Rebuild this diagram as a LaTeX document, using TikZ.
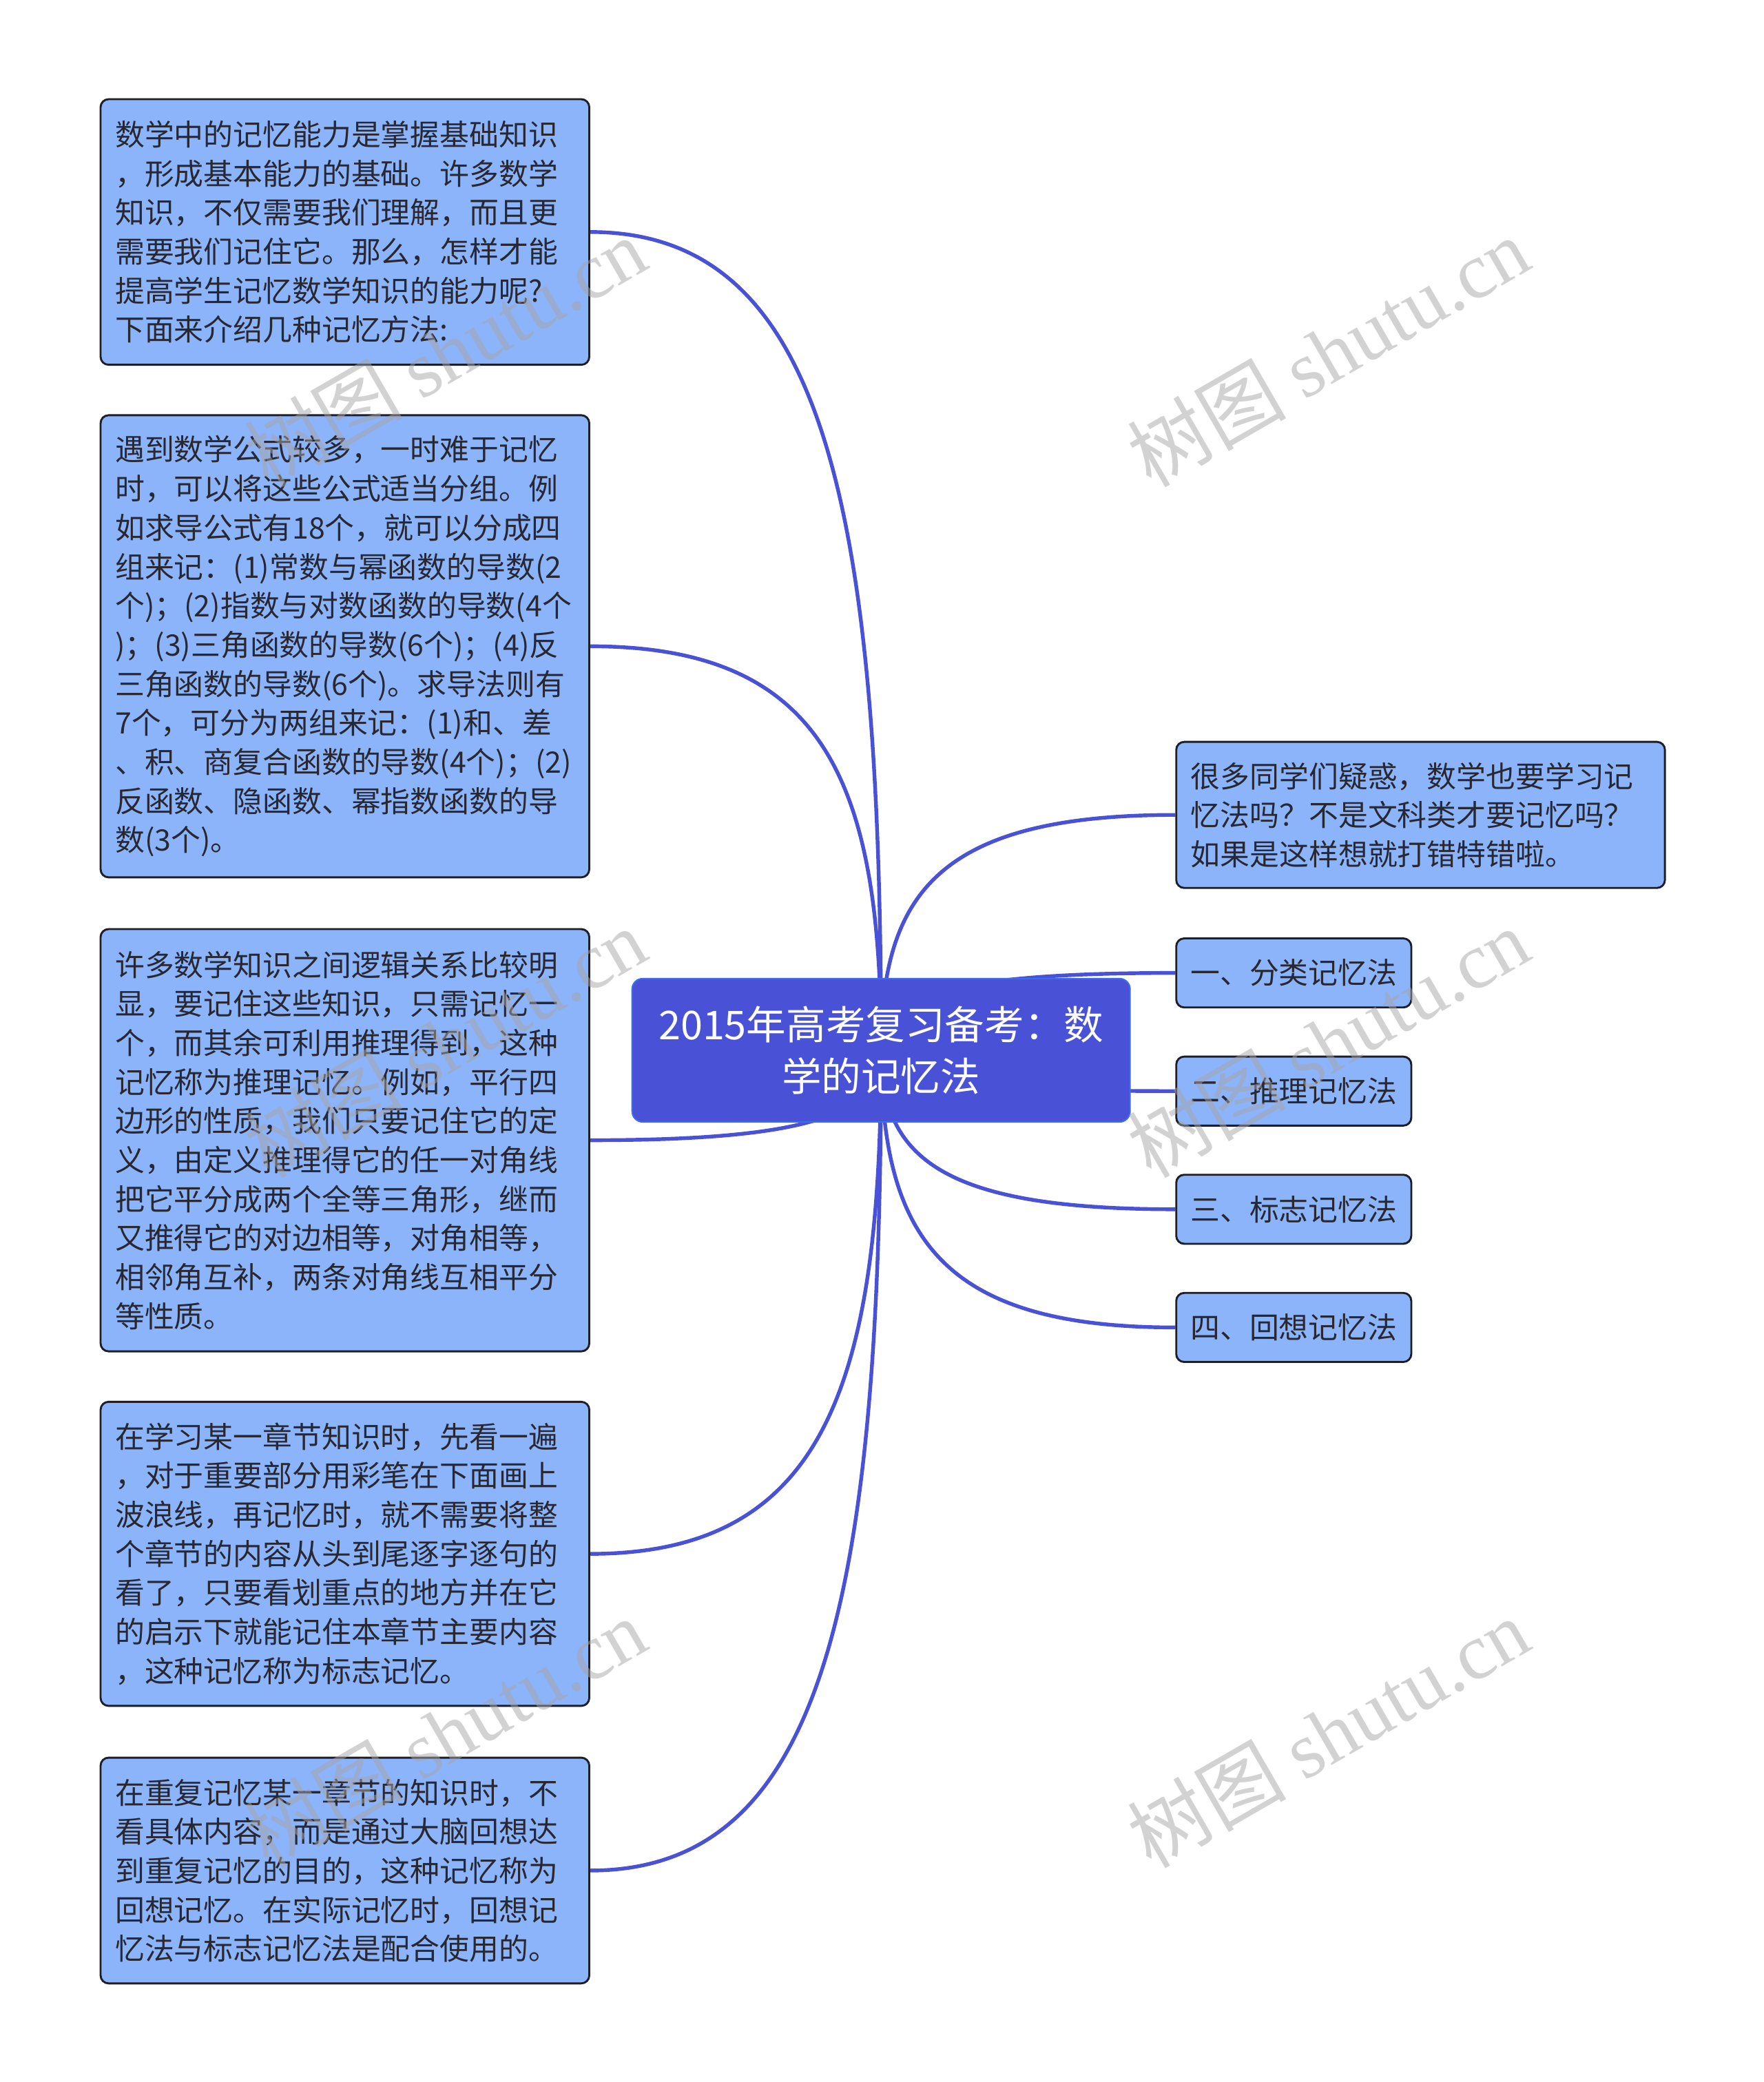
\documentclass[tikz,border=0pt]{standalone}
\usepackage{fontspec}
\setmainfont{Noto Sans CJK SC}
\newfontfamily\wmlatin{Liberation Serif}
\usepackage{xcolor}
\definecolor{mmblue}{RGB}{73,82,214}
\definecolor{rootedge}{RGB}{62,108,232}
\definecolor{boxfill}{RGB}{140,180,250}
\definecolor{boxline}{RGB}{28,30,40}
\definecolor{txtdark}{RGB}{40,40,50}
\usepackage{tikz}
\usetikzlibrary{positioning,backgrounds,calc}

\begin{document}
\begin{tikzpicture}[
  root/.style={draw=rootedge,fill=mmblue,line width=0.6pt,rounded corners=0.16cm,text=white,align=center,minimum width=7.5cm,minimum height=2.16cm,font=\fontsize{17pt}{22pt}\selectfont},
  note/.style={draw=boxline,fill=boxfill,line width=0.85pt,rounded corners=0.12cm,text=txtdark,align=left,anchor=north west,text width=6.92cm,inner xsep=0.22cm,font=\fontsize{12.65pt}{16.73pt}\selectfont},
  tag/.style={draw=boxline,fill=boxfill,line width=0.85pt,rounded corners=0.12cm,text=txtdark,align=center,anchor=north west,minimum width=3.54cm,minimum height=1.04cm,font=\fontsize{12.65pt}{16.73pt}\selectfont},
  link/.style={draw=mmblue,line width=1.6pt},
  wmark/.style={text=black!35,text opacity=0.5,rotate=30,font=\fontsize{34pt}{34pt}\selectfont}
]
  \useasboundingbox (0,0) rectangle (26.56,31.36);

  % centre
  \node[root] (root) at (13.27,15.54) {2015年高考复习备考：数\\学的记忆法};

  % left side
  \node[note,minimum height=4.00cm] (l1) at (1.50,29.88) {数学中的记忆能力是掌握基础知识\\，形成基本能力的基础。许多数学\\知识，不仅需要我们理解，而且更\\需要我们记住它。那么，怎样才能\\提高学生记忆数学知识的能力呢?\\下面来介绍几种记忆方法:};
  \node[note,minimum height=6.96cm] (l2) at (1.50,25.12) {遇到数学公式较多，一时难于记忆\\时，可以将这些公式适当分组。例\\如求导公式有18个，就可以分成四\\组来记：(1)常数与幂函数的导数(2\\个)；(2)指数与对数函数的导数(4个\\)；(3)三角函数的导数(6个)；(4)反\\三角函数的导数(6个)。求导法则有\\7个，可分为两组来记：(1)和、差\\、积、商复合函数的导数(4个)；(2)\\反函数、隐函数、幂指数函数的导\\数(3个)。};
  \node[note,minimum height=6.36cm] (l3) at (1.50,17.38) {许多数学知识之间逻辑关系比较明\\显，要记住这些知识，只需记忆一\\个，而其余可利用推理得到，这种\\记忆称为推理记忆。例如，平行四\\边形的性质，我们只要记住它的定\\义，由定义推理得它的任一对角线\\把它平分成两个全等三角形，继而\\又推得它的对边相等，对角相等，\\相邻角互补，两条对角线互相平分\\等性质。};
  \node[note,minimum height=4.58cm] (l4) at (1.50,10.26) {在学习某一章节知识时，先看一遍\\，对于重要部分用彩笔在下面画上\\波浪线，再记忆时，就不需要将整\\个章节的内容从头到尾逐字逐句的\\看了，只要看划重点的地方并在它\\的启示下就能记住本章节主要内容\\，这种记忆称为标志记忆。};
  \node[note,minimum height=3.40cm] (l5) at (1.50,4.90) {在重复记忆某一章节的知识时，不\\看具体内容，而是通过大脑回想达\\到重复记忆的目的，这种记忆称为\\回想记忆。在实际记忆时，回想记\\忆法与标志记忆法是配合使用的。};

  % right side
  \node[note,minimum height=2.20cm] (r0) at (17.70,20.20) {很多同学们疑惑，数学也要学习记\\忆法吗？不是文科类才要记忆吗？\\如果是这样想就打错特错啦。};
  \node[tag] (r1) at (17.70,17.24) {一、分类记忆法};
  \node[tag] (r2) at (17.70,15.46) {二、推理记忆法};
  \node[tag] (r3) at (17.70,13.68) {三、标志记忆法};
  \node[tag] (r4) at (17.70,11.90) {四、回想记忆法};

  % links
  \begin{scope}[on background layer]
    \fill[white] (0,0) rectangle (26.56,31.36);
    \foreach \n/\a in {l1/east,l2/east,l3/east,l4/east,l5/east,r0/west,r1/west,r2/west,r3/west,r4/west}
      \draw[link] (root.center) .. controls ($(root.center)!0.67!(root.center |- \n.\a)$) and ($(\n.\a)!0.8!(root.center |- \n.\a)$) .. (\n.\a);
  \end{scope}

  % watermarks
  \foreach \x in {6.7,20.0}
    \foreach \y in {26.06,15.66,5.26}
      \node[wmark] (wm) at (\x,\y) {树图 {\wmlatin shutu.cn}};
\end{tikzpicture}
\end{document}
